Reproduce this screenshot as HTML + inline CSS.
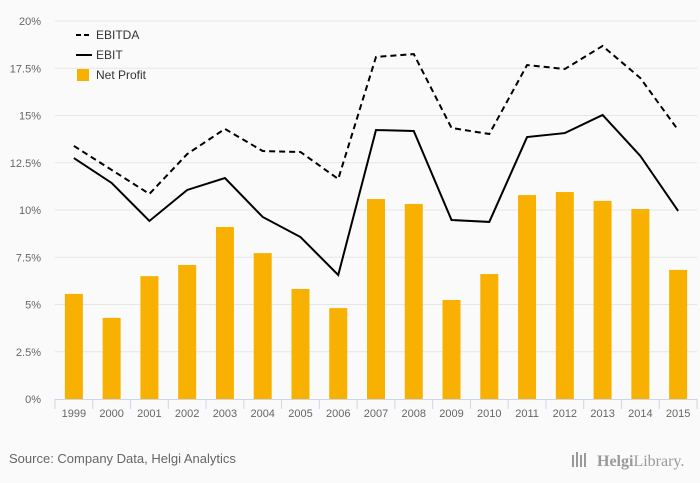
<!DOCTYPE html>
<html><head><meta charset="utf-8"><style>
body{margin:0;background:#fafafa;font-family:"Liberation Sans",sans-serif}
svg{display:block}
</style></head><body>
<svg id="c" width="700" height="483">
<rect width="700" height="483" fill="#fafafa"/>
<g id="grid"></g><g id="bars"></g><g id="lines"></g><g id="axes"></g>
<g font-size="12" fill="#333">
<line x1="76" y1="35" x2="92" y2="35" stroke="#000" stroke-width="2" stroke-dasharray="5,3"/>
<text x="96" y="39">EBITDA</text>
<line x1="76" y1="55" x2="92" y2="55" stroke="#000" stroke-width="2"/>
<text x="96" y="59">EBIT</text>
<rect x="77" y="69" width="12" height="12" fill="#f8b100"/>
<text x="96" y="79">Net Profit</text>
</g>
<text x="9" y="463" font-size="13" fill="#666">Source: Company Data, Helgi Analytics</text>
<g fill="#999">
<rect x="572" y="455" width="2" height="12"/><rect x="576" y="452" width="2" height="15"/><rect x="580" y="455" width="2" height="12"/><rect x="584" y="453" width="2" height="14"/>
<text x="597" y="466" font-size="16" font-family="Liberation Serif,serif"><tspan font-weight="bold">Helgi</tspan>Library.</text>
</g>
</svg>
<script>
const categories=["1999","2000","2001","2002","2003","2004","2005","2006","2007","2008","2009","2010","2011","2012","2013","2014","2015"];
const netProfit=[5.56,4.29,6.5,7.09,9.1,7.72,5.82,4.81,10.58,10.32,5.24,6.61,10.79,10.95,10.48,10.05,6.83];
const ebit=[12.75,11.43,9.42,11.06,11.69,9.63,8.57,6.56,14.23,14.18,9.47,9.37,13.86,14.07,15.03,12.86,9.95];
const ebitda=[13.39,12.12,10.85,12.96,14.29,13.12,13.07,11.64,18.1,18.25,14.34,14.02,17.67,17.46,18.68,16.98,14.23];
const yTicks=[0,2.5,5,7.5,10,12.5,15,17.5,20];
const yTickLabels=["0%","2.5%","5%","7.5%","10%","12.5%","15%","17.5%","20%"];
const NS="http://www.w3.org/2000/svg";
const x0=55,x1=697,y0=399,yTop=21,band=(x1-x0)/categories.length;
const y=v=>y0-(v/20)*(y0-yTop);
const xc=i=>x0+band*(i+0.5);
function mk(p,t,a){const e=document.createElementNS(NS,t);for(const k in a)e.setAttribute(k,a[k]);document.getElementById(p).appendChild(e);return e;}
yTicks.forEach((t,i)=>{
 if(t>0){const g=mk('grid','line',{x1:x0,x2:x1,y1:y(t),y2:y(t),stroke:'#e6e6e6'});
 
 }
 const l=mk('axes','text',{x:41,y:y(t)+4,'text-anchor':'end','font-size':11,fill:'#666'});l.textContent=yTickLabels[i];
 
 
});
netProfit.forEach((v,i)=>{
 const r=mk('bars','rect',{x:xc(i)-9,y:y(v),width:18,height:y0-y(v),fill:'#f8b100'});
 
 
});
const pts=a=>a.map((v,i)=>xc(i)+','+y(v)).join(' ');
const l1=mk('lines','polyline',{points:pts(ebitda),fill:'none',stroke:'#000','stroke-width':2,'stroke-dasharray':'6,4'});


const l2=mk('lines','polyline',{points:pts(ebit),fill:'none',stroke:'#000','stroke-width':2});


const ax=mk('axes','line',{x1:x0,x2:x1,y1:y0+0.5,y2:y0+0.5,stroke:'#ccd6eb'});


for(let i=0;i<=categories.length;i++){const t=mk('axes','line',{x1:x0+band*i,x2:x0+band*i,y1:y0,y2:y0+10,stroke:'#ccd6eb'});
 
 }
categories.forEach((c,i)=>{const t=mk('axes','text',{x:xc(i),y:417,'text-anchor':'middle','font-size':11,fill:'#666'});t.textContent=c;
 
 });
</script>
</body></html>
